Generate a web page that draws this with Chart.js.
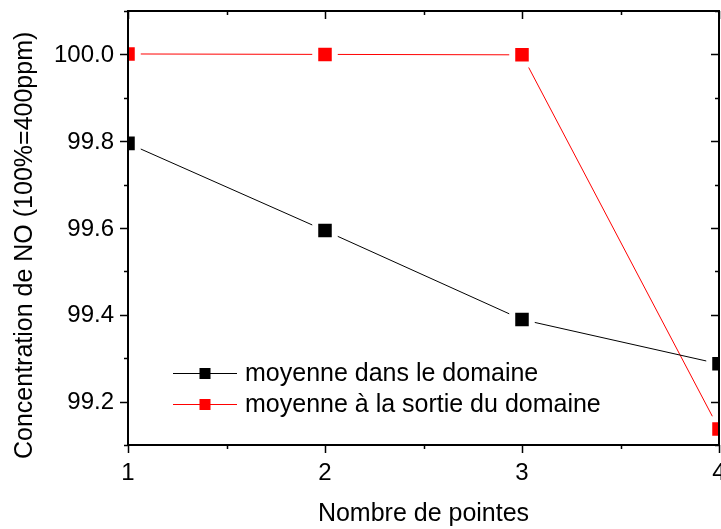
<!DOCTYPE html>
<html>
<head>
<meta charset="utf-8">
<script src="https://cdn.jsdelivr.net/npm/chart.js@4.4.1/dist/chart.umd.min.js"></script>
<style>
  body { margin: 0; background: #fff; }
  canvas { display: block; }
</style>
</head>
<body>
<canvas id="concChart" width="721" height="529"></canvas>
<script>
// valeurs
const nbPointes = [1, 2, 3, 4];
const moyenneDomaine = [99.795, 99.594, 99.389, 99.287];
const moyenneSortie = [100.001, 100.0, 99.999, 99.137];

// graduations
const xTicksMajor = [1, 2, 3, 4];
const xTicksMinor = [1.5, 2.5, 3.5];
const yTicksMajor = [99.2, 99.4, 99.6, 99.8, 100.0];
const yTicksMinor = [99.1, 99.3, 99.5, 99.7, 99.9, 100.1];

const FONT = 'Arial, "Liberation Sans", sans-serif';

function toPoints(ys) {
  return nbPointes.map((x, i) => ({ x: x, y: ys[i] }));
}

// cadre, graduations, étiquettes et légende (style Origin)
const axesPlugin = {
  id: 'axesPlugin',
  afterDatasetsDraw(chart) {
    const ctx = chart.ctx;
    const a = chart.chartArea;
    const xs = chart.scales.x;
    const ys = chart.scales.y;
    ctx.save();
    ctx.strokeStyle = '#000';
    ctx.lineWidth = 2;
    ctx.strokeRect(a.left, a.top, a.right - a.left, a.bottom - a.top);

    ctx.lineWidth = 1.5;
    function tickX(v, len) {
      const px = Math.round(xs.getPixelForValue(v)) + 0.5;
      ctx.beginPath();
      ctx.moveTo(px, a.bottom); ctx.lineTo(px, a.bottom + len);
      ctx.moveTo(px, a.top); ctx.lineTo(px, a.top + len);
      ctx.stroke();
    }
    function tickY(v, len) {
      const py = Math.round(ys.getPixelForValue(v)) + 0.5;
      ctx.beginPath();
      ctx.moveTo(a.left, py); ctx.lineTo(a.left - len, py);
      ctx.moveTo(a.right, py); ctx.lineTo(a.right - len, py);
      ctx.stroke();
    }
    xTicksMajor.forEach(v => tickX(v, 8));
    xTicksMinor.forEach(v => tickX(v, 4));
    yTicksMajor.forEach(v => tickY(v, 8));
    yTicksMinor.forEach(v => tickY(v, 4));

    ctx.fillStyle = '#000';
    ctx.font = '24px ' + FONT;
    ctx.textAlign = 'center';
    ctx.textBaseline = 'middle';
    xTicksMajor.forEach(v => {
      ctx.fillText(String(v), xs.getPixelForValue(v), a.bottom + 28);
    });
    ctx.textAlign = 'right';
    yTicksMajor.forEach(v => {
      ctx.fillText(v.toFixed(1), a.left - 14, ys.getPixelForValue(v) + 1);
    });

    // légende
    ctx.font = '25px ' + FONT;
    ctx.textAlign = 'left';
    chart.data.datasets.forEach((ds, i) => {
      const yRow = a.bottom - 72 + i * 31;
      const x0 = a.left + 45;
      ctx.strokeStyle = ds.borderColor;
      ctx.lineWidth = 1;
      ctx.beginPath();
      ctx.moveTo(x0, yRow + 0.5); ctx.lineTo(x0 + 64, yRow + 0.5);
      ctx.stroke();
      ctx.fillStyle = ds.pointBackgroundColor;
      ctx.fillRect(x0 + 32 - 5.5, yRow - 5, 11, 11);
      ctx.fillStyle = '#000';
      ctx.fillText(ds.label, x0 + 72, yRow + 1);
    });
    ctx.restore();
  }
};

const data = {
  datasets: [{
    label: 'moyenne dans le domaine',
    data: toPoints(moyenneDomaine),
    borderColor: '#000000',
    borderWidth: 1,
    pointStyle: 'rect',
    pointRadius: 13.8,
    pointBackgroundColor: '#000000',
    pointBorderColor: '#ffffff',
    pointBorderWidth: 6,
    clip: 0
  }, {
    label: 'moyenne à la sortie du domaine',
    data: toPoints(moyenneSortie),
    borderColor: '#ff0000',
    borderWidth: 1,
    pointStyle: 'rect',
    pointRadius: 13.8,
    pointBackgroundColor: '#ff0000',
    pointBorderColor: '#ffffff',
    pointBorderWidth: 6,
    clip: 0
  }]
};

const config = {
  type: 'line',
  data: data,
  plugins: [axesPlugin],
  options: {
    responsive: false,
    animation: false,
    events: [],
    layout: { autoPadding: false, padding: { top: 11, right: 2, left: 0, bottom: 0 } },
    plugins: {
      legend: { display: false },
      tooltip: { enabled: false }
    },
    scales: {
      x: {
        type: 'linear',
        min: 1,
        max: 4,
        grid: { display: false, drawTicks: false },
        border: { display: false },
        ticks: { display: false, stepSize: 1 },
        title: {
          display: true,
          text: 'Nombre de pointes',
          color: '#000',
          font: { family: FONT, size: 25 },
          padding: { top: 0, bottom: 0 }
        },
        afterFit: function(scale) { scale.height = 84; }
      },
      y: {
        min: 99.1,
        max: 100.1,
        grid: { display: false, drawTicks: false },
        border: { display: false },
        ticks: { display: false, stepSize: 0.1 },
        title: {
          display: true,
          text: 'Concentration de NO (100%=400ppm)     ',
          color: '#000',
          font: { family: FONT, size: 25 },
          padding: { top: 10, bottom: 0 }
        },
        afterFit: function(scale) { scale.width = 128; }
      }
    }
  }
};

const ctx = document.getElementById('concChart').getContext('2d');
new Chart(ctx, config);
</script>
</body>
</html>
